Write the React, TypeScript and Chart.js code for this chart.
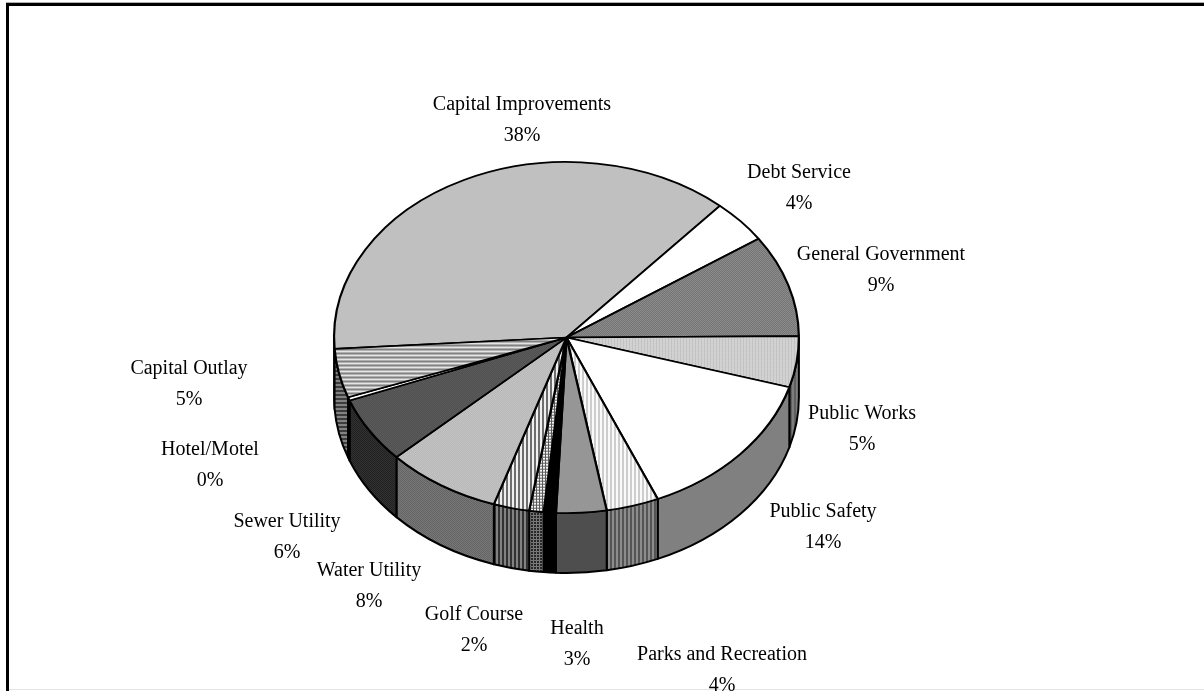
import React, { useEffect, useRef } from "react";
import { Chart, registerables } from "chart.js";

Chart.register(...registerables);

// Budget shares by fund, clockwise. Two thin slices carry no caption.
const categories = [
  "Capital Improvements", "Debt Service", "General Government", "Public Works",
  "Public Safety", "Parks and Recreation", "Health", "", "", "Golf Course",
  "Water Utility", "Sewer Utility", "Hotel/Motel", "Capital Outlay",
];
const shares = [37.51, 4, 9.4, 4.7, 14, 3.65, 3.49, 0.85, 1, 2.49, 8, 6.1, 0.3, 4.51];

// Caption centre points, one per slice (x, y of the first line).
const captionX = [522, 799, 881, 862, 823, 722, 577, 0, 0, 474, 369, 287, 210, 189];
const captionY = [105, 173, 255, 414, 512, 655, 629, 0, 0, 615, 571, 522, 450, 369];

// Fill tiles as rows of grey levels.
const topTiles: number[][][] = [
  [[192]],
  [[255]],
  [[96, 160], [160, 96]],
  [[205, 205, 190], [215, 215, 200]],
  [[255]],
  [[250, 250, 205, 205]],
  [[150]],
  [[0]],
  [[245, 245, 90], [245, 245, 90], [90, 90, 90]],
  [[240, 240, 110, 110]],
  [[175, 205], [205, 175]],
  [[72, 100], [100, 72]],
  [[255]],
  [[240], [200], [120], [150]],
];
const wallTiles: number[][][] = [
  [[110]],
  [[150]],
  [[70]],
  [[125, 125, 95, 95]],
  [[128]],
  [[140, 140, 85, 85]],
  [[78]],
  [[0]],
  [[40, 40, 120], [40, 40, 120], [120, 120, 120]],
  [[130, 130, 50, 50]],
  [[100, 120], [120, 100]],
  [[32, 50], [50, 32]],
  [[0]],
  [[130], [130], [60], [60]],
];

const TILT = 0.755;
const DEPTH = 60;
const CANVAS_W = 1204;
const CANVAS_H = 691;

function makeTile(rows: number[][], matrix?: DOMMatrix): CanvasPattern {
  const h = rows.length;
  const w = rows[0].length;
  const tile = document.createElement("canvas");
  tile.width = w;
  tile.height = h;
  const c = tile.getContext("2d")!;
  rows.forEach((row, y) =>
    row.forEach((g, x) => {
      c.fillStyle = `rgb(${g},${g},${g})`;
      c.fillRect(x, y, 1, 1);
    })
  );
  const pattern = c.createPattern(tile, "repeat")!;
  if (matrix) pattern.setTransform(matrix);
  return pattern;
}

// Draws the visible rim under each slice, then flattens the pie into an ellipse.
const tiltedPie = {
  id: "tiltedPie",
  beforeDatasetsDraw(chart: any) {
    const ctx: CanvasRenderingContext2D = chart.ctx;
    const arcs = chart.getDatasetMeta(0).data;
    const walls = wallTiles.map((t) => makeTile(t));
    const cx = arcs[0].x;
    const cy = arcs[0].y;
    const rx = arcs[0].outerRadius;
    const ry = rx * TILT;
    ctx.save();
    ctx.lineWidth = 2;
    ctx.strokeStyle = "#000";
    ctx.lineJoin = "round";
    arcs.forEach((arc: any, i: number) => {
      for (const turn of [-2 * Math.PI, 0, 2 * Math.PI]) {
        const a = Math.max(arc.startAngle + turn, 0);
        const b = Math.min(arc.endAngle + turn, Math.PI);
        if (b <= a) continue;
        ctx.beginPath();
        ctx.ellipse(cx, cy, rx, ry, 0, a, b);
        ctx.ellipse(cx, cy + DEPTH, rx, ry, 0, b, a, true);
        ctx.closePath();
        ctx.fillStyle = walls[i];
        ctx.fill();
        ctx.stroke();
      }
    });
    ctx.restore();
    ctx.save();
    ctx.translate(0, cy);
    ctx.scale(1, TILT);
    ctx.translate(0, -cy);
  },
  afterDatasetsDraw(chart: any) {
    const ctx: CanvasRenderingContext2D = chart.ctx;
    ctx.restore();
    // Slice captions with their rounded percentage.
    const total = shares.reduce((s, v) => s + v, 0);
    ctx.save();
    ctx.fillStyle = "#000";
    ctx.font = '20px "Liberation Serif"';
    ctx.textAlign = "center";
    ctx.textBaseline = "middle";
    categories.forEach((name, i) => {
      if (!name) return;
      ctx.fillText(name, captionX[i], captionY[i]);
      ctx.fillText(`${Math.round((shares[i] / total) * 100)}%`, captionX[i], captionY[i] + 31);
    });
    ctx.restore();
  },
  beforeDraw(chart: any) {
    // Frame: heavy top and left rules, faint rule along the bottom.
    const ctx: CanvasRenderingContext2D = chart.ctx;
    ctx.save();
    ctx.fillStyle = "#fff";
    ctx.fillRect(0, 0, CANVAS_W, CANVAS_H);
    ctx.fillStyle = "#000";
    ctx.fillRect(6, 3, CANVAS_W - 6, 3);
    ctx.fillRect(6, 3, 3, CANVAS_H - 3);
    ctx.fillStyle = "#b0b0b0";
    ctx.fillRect(6, 2, CANVAS_W - 6, 1);
    ctx.fillStyle = "#e4e4e4";
    ctx.fillRect(9, 689, CANVAS_W - 9, 1);
    ctx.restore();
  },
};

export default function App() {
  const ref = useRef<HTMLCanvasElement>(null);
  useEffect(() => {
    document.body.style.margin = "0";
    // Undo the vertical squeeze inside the tiles so stripes stay crisp.
    const unsquash = new DOMMatrix().scale(1, 1 / TILT);
    const chart = new Chart(ref.current!, {
      type: "pie",
      data: {
        labels: categories,
        datasets: [
          {
            data: shares,
            backgroundColor: topTiles.map((t) => makeTile(t, unsquash)),
            borderColor: "#000",
            borderWidth: 2.2,
            clip: false,
          } as any,
        ],
      },
      options: {
        animation: false,
        responsive: false,
        events: [],
        rotation: 266.3,
        layout: { padding: { left: 333, right: 404, top: 104, bottom: 120 } },
        plugins: { legend: { display: false }, tooltip: { enabled: false }, title: { display: false } },
      },
      plugins: [tiltedPie],
    });
    return () => chart.destroy();
  }, []);
  return (
    <canvas
      ref={ref}
      width={CANVAS_W}
      height={CANVAS_H}
      style={{ display: "block", width: CANVAS_W, height: CANVAS_H }}
    />
  );
}
